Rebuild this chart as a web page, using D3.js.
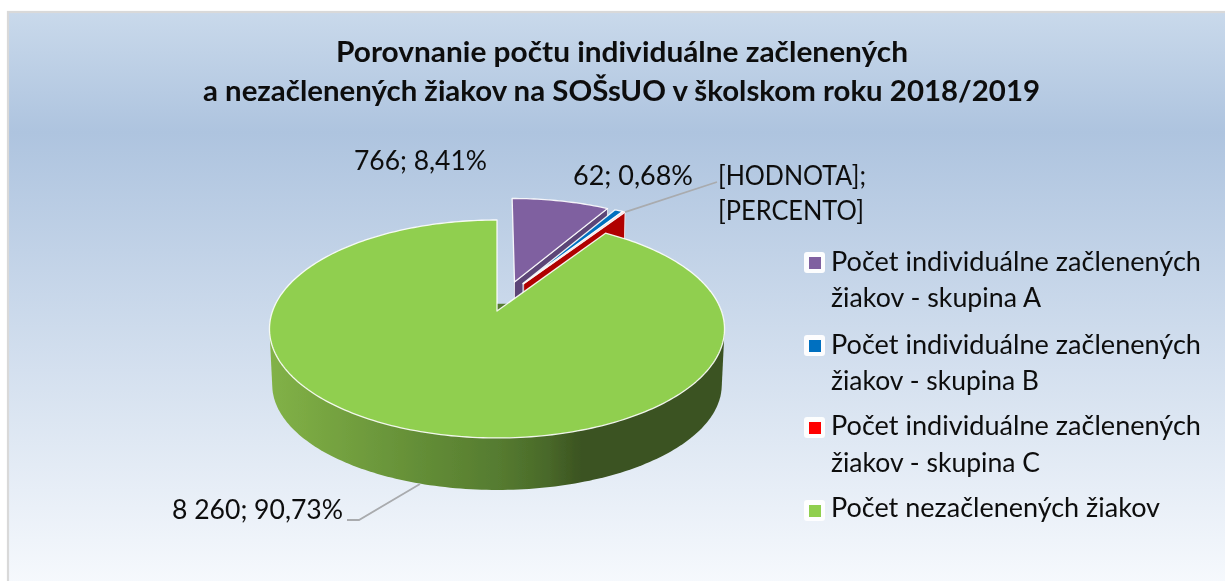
<!DOCTYPE html>
<html><head><meta charset="utf-8">
<script src="https://cdn.jsdelivr.net/npm/d3@7/dist/d3.min.js"></script>
<style>html,body{margin:0;padding:0;background:#fff}svg{display:block}text{font-family:Lato,"Open Sans",sans-serif;fill:#0c0c0c}</style>
</head><body><svg id="c" width="1225" height="581"></svg>
<script>
const titleLines = ["Porovnanie počtu individuálne začlenených","a nezačlenených žiakov na SOŠsUO v školskom roku 2018/2019"];
const categories = ["Počet individuálne začlenených žiakov - skupina A","Počet individuálne začlenených žiakov - skupina B","Počet individuálne začlenených žiakov - skupina C","Počet nezačlenených žiakov"];
const values = [766,62,16,8260];
const topColors = ["#7f60a0","#0070c0","#d40000","#90cf50"];
const wallColors = ["#5b4577","#0a5d9e","#b00000","url(#gw)"];
const legendColors = ["#7f60a0","#0070c0","#ff0000","#90cf50"];

const svg = d3.select("#c");
const defs = svg.append("defs");
const bg = defs.append("linearGradient").attr("id","bg").attr("x1",0).attr("x2",0).attr("y1",0).attr("y2",1);
[[0,"#c9d9eb"],[0.21,"#aec4df"],[1,"#f6f9fd"]].forEach(s=>bg.append("stop").attr("offset",s[0]).attr("stop-color",s[1]));
const gw = defs.append("linearGradient").attr("id","gw").attr("gradientUnits","userSpaceOnUse").attr("x1",269).attr("x2",724).attr("y1",0).attr("y2",0);
[[0,"#82b247"],[0.35,"#628c36"],[0.5,"#567c30"],[0.607,"#4a6a2a"],[0.69,"#3a5220"],[1,"#3a5220"]].forEach(s=>gw.append("stop").attr("offset",s[0]).attr("stop-color",s[1]));
defs.append("filter").attr("id","soft").attr("x","-5%").attr("y","-5%").attr("width","110%").attr("height","110%")
  .append("feGaussianBlur").attr("stdDeviation",0.45);
defs.append("filter").attr("id","soft2").attr("x","-5%").attr("y","-5%").attr("width","110%").attr("height","110%")
  .append("feGaussianBlur").attr("stdDeviation",0.3);

svg.append("rect").attr("x",8).attr("y",12).attr("width",1220).attr("height",572).attr("fill","url(#bg)").attr("stroke","#d9d9d9").attr("stroke-width",2.2);

// perspective projection of the pie plane (u,v on the unit disc, h = 0 top, 1 bottom)
const P = {cx:497,b:311,a:54.7,c:-0.165,d:224.4,f:0.012,g:61.1,da:-11.8};
function proj(u,v,h){const w=1+P.c*v+P.f*h;return [P.cx+P.d*u/w,(P.b+P.a*v+h*(P.g+P.da*v))/w];}
const explode=0.149, C=[0.0428,-0.1427];
const arcs = d3.pie().sort(null).value(d=>d)(values);
const line = d3.line();
function apex(a){const m=(a.startAngle+a.endAngle)/2;return [C[0]+explode*Math.sin(m),C[1]-explode*Math.cos(m)];}
function rim(a,t,h){const o=apex(a);return proj(o[0]+Math.sin(t),o[1]-Math.cos(t),h);}
function samples(t0,t1){const n=Math.max(2,Math.ceil((t1-t0)/0.02));return d3.range(n+1).map(i=>t0+(t1-t0)*i/n);}

const g = svg.append("g").attr("filter","url(#soft2)");
arcs.forEach((a,i)=>{
  const o=apex(a);
  let wall;
  if(i<3){
    wall=[proj(o[0],o[1],0),rim(a,a.endAngle,0),rim(a,a.endAngle,1),proj(o[0],o[1],1)];
    g.append("path").attr("d",line(wall)+"Z").attr("fill",wallColors[i]).attr("stroke","#fff").attr("stroke-opacity",0.7).attr("stroke-width",1);
  } else {
    const ts=samples(1.5,4.78);
    wall=d3.polygonHull(ts.map(t=>rim(a,t,0)).concat(ts.map(t=>rim(a,t,1))));
    g.append("path").attr("d",line(wall)+"Z").attr("fill",wallColors[i]);
  }
  const top=[proj(o[0],o[1],0)].concat(samples(a.startAngle,a.endAngle).map(t=>rim(a,t,0)));
  g.append("path").attr("d",line(top)+"Z").attr("fill",topColors[i]).attr("stroke","#fff").attr("stroke-opacity",0.9).attr("stroke-width",1.3).attr("stroke-linejoin","round");
});

// leader lines
const rimPt=(i,t)=>rim(arcs[i],t,0);
const leaders=[
 [[512.7,247],[512.7,260]],
 [[618,193],[618,212]],
 [rimPt(2,arcs[2].endAngle),[717,182]],
 [[420,484],[359,520],[347,520]]
];
svg.append("g").selectAll("path").data(leaders).join("path").attr("d",d=>line(d)).attr("fill","none").attr("stroke","#a9abae").attr("stroke-width",1.8).attr("filter","url(#soft2)");

function fit(sel,x,y,txt,size,w,bold){
  sel.append("text").attr("x",x).attr("y",y).attr("font-size",size).attr("font-weight",bold?700:400)
    .attr("textLength",w).attr("lengthAdjust","spacingAndGlyphs").text(txt);
}
const T=svg.append("g").attr("filter","url(#soft)");
fit(T,336,62,titleLines[0],28,572,true);
fit(T,203,101,titleLines[1],28,837,true);

const dataLabels=[["766; 8,41%",354,170,133],["62; 0,68%",573,185,120],["[HODNOTA];",718,185,148],["[PERCENTO]",718,220,146],["8 260; 90,73%",172,519,171]];
const L=svg.append("g").attr("filter","url(#soft)");
dataLabels.forEach(d=>fit(L,d[1],d[2],d[0],27,d[3],false));

const legendLines=[["Počet individuálne začlenených","žiakov - skupina A"],["Počet individuálne začlenených","žiakov - skupina B"],["Počet individuálne začlenených","žiakov - skupina C"],["Počet nezačlenených žiakov"]];
const lineWidths=[[370,210],[370,208],[370,209],[329]];
const legendBase=[[271,307],[354,390],[435,472],[517]];
const boxTop=[252,335,417,500];
const Lg=svg.append("g").attr("filter","url(#soft)");
categories.forEach((c,i)=>{
  Lg.append("rect").attr("x",804).attr("y",boxTop[i]).attr("width",21).attr("height",21).attr("rx",3).attr("fill","#fff").attr("fill-opacity",0.95);
  Lg.append("rect").attr("x",809).attr("y",boxTop[i]+5).attr("width",12).attr("height",12).attr("fill",legendColors[i]);
  legendLines[i].forEach((t,j)=>fit(Lg,831,legendBase[i][j],t,27,lineWidths[i][j],false));
});
</script></body></html>
